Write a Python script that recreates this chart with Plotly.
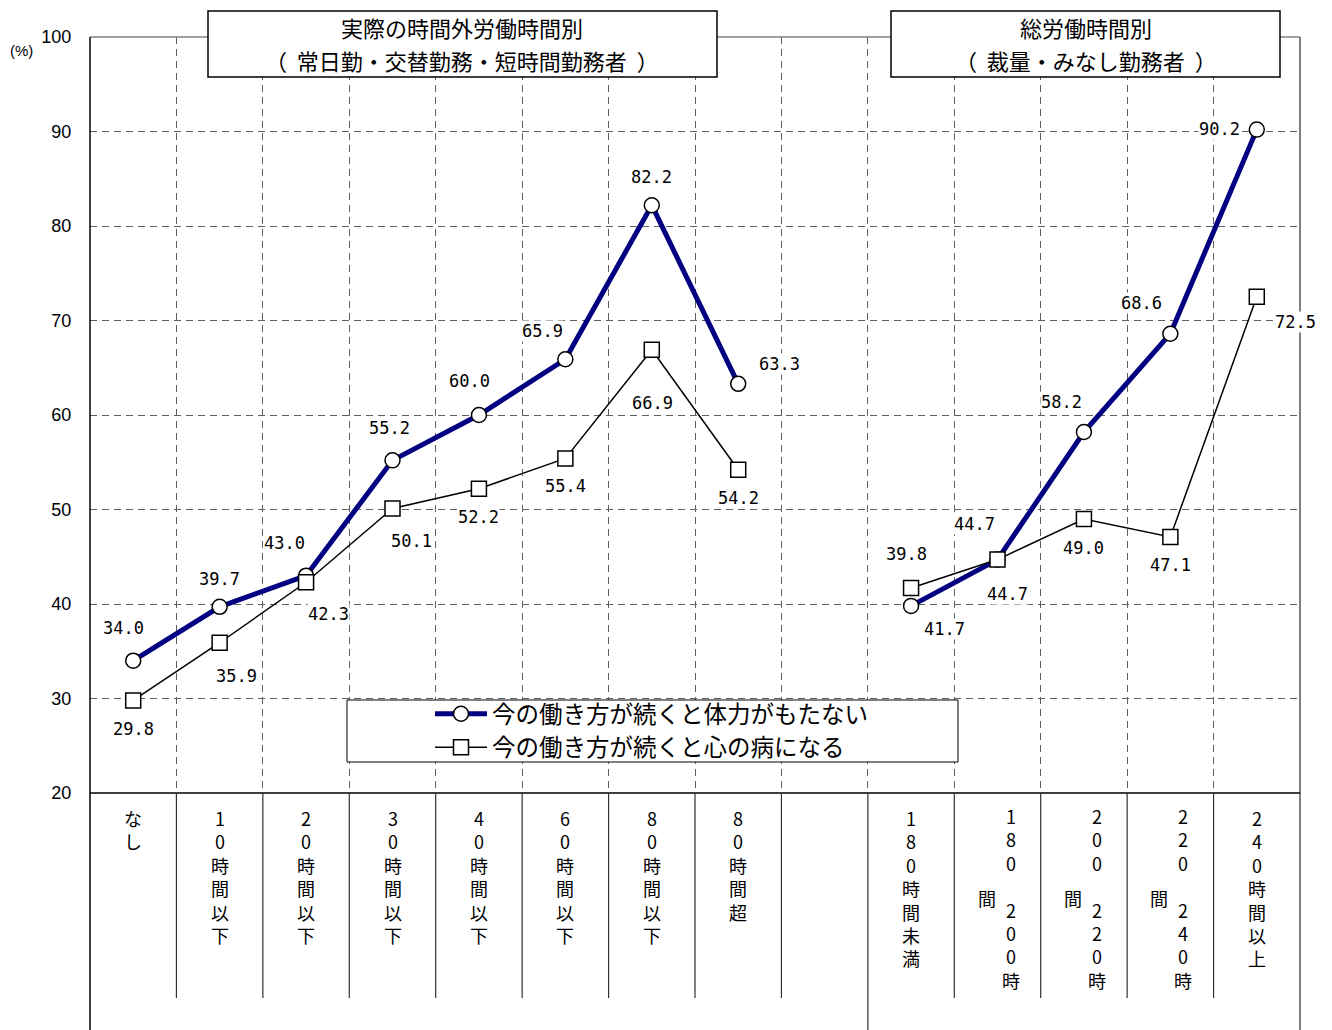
import plotly.graph_objects as go

# ---- data -------------------------------------------------------------
categories = ["なし", "10時間以下", "20時間以下", "30時間以下", "40時間以下",
              "60時間以下", "80時間以下", "80時間超", "",
              "180時間未満", "180～200時間", "200～220時間", "220～240時間", "240時間以上"]
stamina = [34.0, 39.7, 43.0, 55.2, 60.0, 65.9, 82.2, 63.3, None,
           39.8, 44.7, 58.2, 68.6, 90.2]
mental = [29.8, 35.9, 42.3, 50.1, 52.2, 55.4, 66.9, 54.2, None,
          41.7, 44.7, 49.0, 47.1, 72.5]
series_names = ["今の働き方が続くと体力がもたない", "今の働き方が続くと心の病になる"]
y_ticks = [20, 30, 40, 50, 60, 70, 80, 90, 100]
group_titles = [("実際の時間外労働時間別", "（\u00a0\u00a0常日勤・交替勤務・短時間勤務者\u00a0\u00a0）"),
                ("総労働時間別", "（\u00a0\u00a0裁量・みなし勤務者\u00a0\u00a0）")]

# ---- label placement (pixel offsets from each marker) -------------------
stamina_offsets = [(-10, -33), (0, -28), (-22, -33), (-3, -32), (-9, -34), (-23, -28),
                   (0, -28), (41, -20), None, (-5, -52), (-23, -36), (-22, -30),
                   (-29, -31), (-37, -1)]
mental_offsets = [(0, 29), (17, 33), (22, 32), (19, 32), (0, 28), (0, 28), (1, 53),
                  (0, 28), None, (33, 41), (10, 34), (0, 29), (0, 28), (39, 25)]

W, H = 1332, 1030
L, R, T, B = 90, 32, 37, 237
PW, PH = W - L - R, H - T - B


def px_x(p):
    return (p - L) / PW


def px_y(p):
    return (H - B - p) / PH


x = list(range(len(categories)))
NAVY = "#000080"
GRID = "#606060"
LABEL_FONT = dict(family="DejaVu Sans Mono", size=17, color="#000000")
JP = "Noto Sans CJK JP"

fig = go.Figure()
fig.add_trace(go.Scatter(
    x=x, y=stamina, name=series_names[0], mode="lines+markers",
    line=dict(color=NAVY, width=5),
    marker=dict(symbol="circle", size=15, color="white",
                line=dict(color="black", width=1.5)),
    connectgaps=False,
))
fig.add_trace(go.Scatter(
    x=x, y=mental, name=series_names[1], mode="lines+markers",
    line=dict(color="black", width=1.5),
    marker=dict(symbol="square", size=15, color="white",
                line=dict(color="black", width=1.5)),
    connectgaps=False,
))

annotations = []
for values, offsets in ((stamina, stamina_offsets), (mental, mental_offsets)):
    for i, (v, off) in enumerate(zip(values, offsets)):
        if v is None:
            continue
        annotations.append(dict(
            x=i, y=v, xref="x", yref="y", text=f"{v:.1f}", showarrow=False,
            xshift=off[0], yshift=-off[1], font=LABEL_FONT,
            bgcolor="white", borderpad=0,
        ))

# vertical category labels under the axis
CAT_FONT = dict(family=JP, size=18, color="black")
for i, cat in enumerate(categories):
    if not cat:
        continue
    if "～" in cat:
        main, extra = cat[:-1], cat[-1]
        col = "<br>".join("\u3000" if ch == "～" else ch for ch in main)
        annotations.append(dict(x=i, y=px_y(898), xref="x", yref="paper", text=col,
                                showarrow=False, xshift=13, yanchor="middle", font=CAT_FONT))
        annotations.append(dict(x=i, y=px_y(898), xref="x", yref="paper", text=extra,
                                showarrow=False, xshift=-11, yanchor="middle", font=CAT_FONT))
    else:
        annotations.append(dict(x=i, y=px_y(803), xref="x", yref="paper",
                                text="<br>".join(cat), showarrow=False, yanchor="top",
                                font=CAT_FONT))

shapes = []
# frame
shapes.append(dict(type="line", xref="paper", yref="paper", x0=0, x1=1, y0=1, y1=1,
                   line=dict(color="#808080", width=1.5)))
shapes.append(dict(type="line", xref="paper", yref="paper", x0=1, x1=1, y0=px_y(1030), y1=1,
                   line=dict(color="#808080", width=2)))
shapes.append(dict(type="line", xref="paper", yref="paper", x0=0, x1=0, y0=px_y(1030), y1=1,
                   line=dict(color="black", width=1.5)))
shapes.append(dict(type="line", xref="paper", yref="paper", x0=0, x1=1, y0=0, y1=0,
                   line=dict(color="black", width=1.5)))
# category dividers below the axis
for i in range(len(categories) - 1):
    b = i + 0.5
    bottom = px_y(1030) if categories[i] == "" else px_y(998)
    shapes.append(dict(type="line", xref="x", yref="paper", x0=b, x1=b, y0=bottom, y1=0,
                       line=dict(color="#303030", width=1.2)))

# group title boxes, one text line per annotation
TITLE_FONT = dict(family=JP, size=22, color="black")
for (line1, line2), (bx0, bx1) in zip(group_titles, ((208, 717), (891, 1280))):
    shapes.append(dict(type="rect", xref="paper", yref="paper", layer="above",
                       x0=px_x(bx0), x1=px_x(bx1), y0=px_y(77), y1=px_y(11),
                       fillcolor="white", line=dict(color="black", width=1.5)))
    cx = px_x((bx0 + bx1) / 2)
    annotations.append(dict(x=cx, y=px_y(27.5), xref="paper", yref="paper", text=line1,
                            showarrow=False, xanchor="center", yanchor="middle",
                            borderpad=0, font=TITLE_FONT))
    annotations.append(dict(x=cx, y=px_y(60), xref="paper", yref="paper", text=line2,
                            showarrow=False, xanchor="center", yanchor="middle",
                            borderpad=0, font=TITLE_FONT))

annotations.append(dict(x=px_x(21), y=px_y(50), xref="paper", yref="paper", text="(%)",
                        showarrow=False, xanchor="center", yanchor="middle",
                        font=dict(family="Liberation Sans", size=15, color="black")))

# legend frame
shapes.append(dict(type="rect", xref="paper", yref="paper", layer="above",
                   x0=px_x(347), x1=px_x(958), y0=px_y(762), y1=px_y(700),
                   fillcolor="white", line=dict(color="black", width=1)))

fig.update_layout(
    width=W, height=H,
    margin=dict(l=L, r=R, t=T, b=B),
    paper_bgcolor="white", plot_bgcolor="white",
    font=dict(family=JP, color="black"),
    showlegend=True,
    legend=dict(x=px_x(430), y=px_y(731), xanchor="left", yanchor="middle",
                bgcolor="rgba(0,0,0,0)", borderwidth=0, itemwidth=52,
                font=dict(family=JP, size=23.5, color="black"),
                tracegroupgap=0),
    xaxis=dict(range=[-0.5, len(categories) - 0.5], tickvals=[i + 0.5 for i in range(len(categories) - 1)],
               showticklabels=False, ticks="", showgrid=True, gridcolor=GRID,
               griddash="7px,5px", gridwidth=1, zeroline=False, showline=False),
    yaxis=dict(range=[20, 100], tickvals=y_ticks, showgrid=True, gridcolor=GRID,
               griddash="7px,5px", gridwidth=1, zeroline=False, showline=False,
               ticks="outside", ticklen=14, tickcolor="rgba(0,0,0,0)",
               tickfont=dict(family="Liberation Sans", size=18, color="black")),
    annotations=annotations,
    shapes=shapes,
)

fig.write_html("out.html")
